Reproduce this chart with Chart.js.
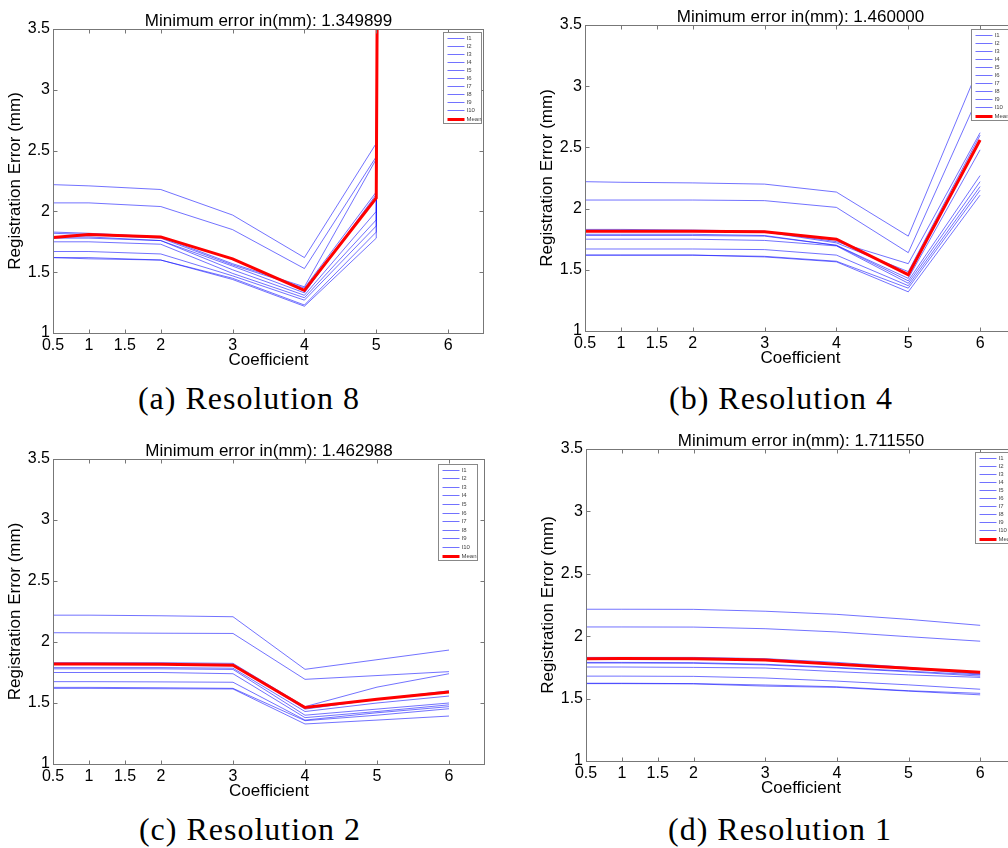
<!DOCTYPE html>
<html>
<head>
<meta charset="utf-8">
<script src="https://cdn.jsdelivr.net/npm/chart.js@4.4.1/dist/chart.umd.min.js"></script>
<style>
  html, body { margin: 0; padding: 0; background: #fff; width: 1008px; height: 848px; overflow: hidden; }
  canvas { position: absolute; }
  .caption { position: absolute; width: 400px; height: 40px; line-height: 40px; text-align: center;
             font-family: 'Liberation Serif', serif; font-size: 32px; letter-spacing: 1px; color: #000; }
</style>
</head>
<body>
<canvas id="res8"></canvas>
<canvas id="res4"></canvas>
<canvas id="res2"></canvas>
<canvas id="res1"></canvas>
<div class="caption" style="left:49px; top:378px">(a) Resolution 8</div>
<div class="caption" style="left:581px; top:378px">(b) Resolution 4</div>
<div class="caption" style="left:50px; top:809px">(c) Resolution 2</div>
<div class="caption" style="left:580px; top:809px">(d) Resolution 1</div>
<script>
const coefficients = [0.5, 1, 2, 3, 4, 5, 6];
const xTicks = [0.5, 1, 1.5, 2, 3, 4, 5, 6];
const yTicks = [1, 1.5, 2, 2.5, 3, 3.5];
const seriesLabels = ['I1', 'I2', 'I3', 'I4', 'I5', 'I6', 'I7', 'I8', 'I9', 'I10'];

// Resolution 8 (values at 6 are far off the top of the axes)
const res8 = [
    [2.22, 2.21, 2.18, 1.97, 1.62, 2.56, 170],
    [2.07, 2.07, 2.04, 1.85, 1.53, 2.45, 120],
    [1.83, 1.82, 1.79, 1.57, 1.38, 2.43, 150],
    [1.82, 1.81, 1.78, 1.56, 1.37, 2.16, 90],
    [1.79, 1.79, 1.76, 1.55, 1.33, 2.14, 130],
    [1.78, 1.78, 1.76, 1.52, 1.31, 2.00, 80],
    [1.75, 1.75, 1.73, 1.49, 1.29, 1.93, 110],
    [1.67, 1.67, 1.65, 1.47, 1.27, 1.88, 140],
    [1.62, 1.62, 1.60, 1.45, 1.23, 1.83, 100],
    [1.62, 1.61, 1.60, 1.44, 1.22, 1.78, 160]
];
const res8Mean = [1.785, 1.81, 1.79, 1.61, 1.35, 2.11, 125];

// Resolution 4
const res4 = [
    [2.22, 2.215, 2.21, 2.20, 2.135, 1.775, 3.18],
    [2.07, 2.07, 2.07, 2.065, 2.01, 1.64, 2.95],
    [1.83, 1.83, 1.825, 1.815, 1.73, 1.55, 2.62],
    [1.82, 1.82, 1.82, 1.81, 1.72, 1.485, 2.60],
    [1.79, 1.79, 1.79, 1.78, 1.70, 1.43, 2.48],
    [1.78, 1.78, 1.78, 1.775, 1.70, 1.41, 2.27],
    [1.75, 1.75, 1.75, 1.74, 1.695, 1.39, 2.22],
    [1.67, 1.67, 1.67, 1.665, 1.62, 1.37, 2.18],
    [1.62, 1.62, 1.62, 1.61, 1.57, 1.35, 2.15],
    [1.62, 1.62, 1.62, 1.605, 1.565, 1.32, 2.11]
];
const res4Mean = [1.815, 1.815, 1.815, 1.81, 1.75, 1.46, 2.56];

// Resolution 2
const res2 = [
    [2.22, 2.22, 2.215, 2.207, 1.776, 1.855, 1.934],
    [2.076, 2.075, 2.072, 2.07, 1.694, 1.725, 1.757],
    [1.83, 1.83, 1.83, 1.825, 1.47, 1.63, 1.74],
    [1.82, 1.82, 1.82, 1.815, 1.45, 1.53, 1.60],
    [1.79, 1.79, 1.79, 1.785, 1.43, 1.50, 1.557],
    [1.78, 1.78, 1.78, 1.775, 1.40, 1.45, 1.50],
    [1.75, 1.75, 1.75, 1.74, 1.38, 1.43, 1.485],
    [1.675, 1.675, 1.673, 1.67, 1.36, 1.42, 1.47],
    [1.628, 1.628, 1.625, 1.62, 1.355, 1.40, 1.453],
    [1.62, 1.62, 1.617, 1.615, 1.328, 1.36, 1.393]
];
const res2Mean = [1.82, 1.82, 1.818, 1.81, 1.463, 1.53, 1.59];

// Resolution 1
const res1 = [
    [2.216, 2.216, 2.215, 2.20, 2.175, 2.135, 2.087],
    [2.074, 2.074, 2.073, 2.06, 2.034, 1.996, 1.96],
    [1.83, 1.83, 1.83, 1.82, 1.79, 1.75, 1.70],
    [1.82, 1.82, 1.82, 1.81, 1.78, 1.74, 1.695],
    [1.79, 1.79, 1.788, 1.775, 1.75, 1.72, 1.69],
    [1.785, 1.785, 1.783, 1.77, 1.745, 1.715, 1.68],
    [1.753, 1.753, 1.75, 1.745, 1.716, 1.69, 1.67],
    [1.68, 1.68, 1.678, 1.665, 1.64, 1.61, 1.575],
    [1.623, 1.623, 1.62, 1.609, 1.595, 1.563, 1.542],
    [1.62, 1.62, 1.618, 1.60, 1.59, 1.56, 1.53]
];
const res1Mean = [1.82, 1.822, 1.82, 1.81, 1.775, 1.743, 1.7116];

const minErrors = ['1.349899', '1.460000', '1.462988', '1.711550'];

const panels = [
    {id: 'res8', left: 0, top: 0, width: 500, height: 375, padTop: 29, padRight: 16,
        lines: res8, mean: res8Mean, minError: minErrors[0], legend: {right: 3, top: 3, width: 38, height: 91}},
    {id: 'res4', left: 532, top: 0, width: 488, height: 373, padTop: 25, padRight: 4,
        lines: res4, mean: res4Mean, minError: minErrors[1], legend: {right: 3, top: 4, width: 42, height: 91}},
    {id: 'res2', left: 0, top: 420, width: 500, height: 386, padTop: 39, padRight: 15,
        lines: res2, mean: res2Mean, minError: minErrors[2], legend: {right: 8, top: 5, width: 39, height: 96}},
    {id: 'res1', left: 533, top: 420, width: 487, height: 383, padTop: 29, padRight: 4,
        lines: res1, mean: res1Mean, minError: minErrors[3], legend: {right: 3, top: 3, width: 38, height: 91}}
];

const blue = 'rgba(20, 20, 255, 0.6)';
const red = '#ff0000';

Chart.defaults.font.family = "'Liberation Sans', Arial, sans-serif";
Chart.defaults.font.size = 16;
Chart.defaults.color = '#000';

// MATLAB style box, inward ticks, title and legend inside the axes
const matlabAxes = {
    id: 'matlabAxes',
    afterDraw(chart, args, opts) {
        const ctx = chart.ctx;
        const a = chart.chartArea;
        const xs = chart.scales.x;
        const ys = chart.scales.y;
        const l = Math.round(a.left) + 0.5, r = Math.round(a.right) - 0.5;
        const t = Math.round(a.top) + 0.5, b = Math.round(a.bottom) + 0.5;

        ctx.save();
        ctx.strokeStyle = '#777';
        ctx.lineWidth = 1;
        ctx.beginPath();
        xTicks.forEach(v => {
            const px = Math.round(xs.getPixelForValue(v)) + 0.5;
            ctx.moveTo(px, b); ctx.lineTo(px, b - 4);
            ctx.moveTo(px, t); ctx.lineTo(px, t + 4);
        });
        yTicks.forEach(v => {
            const py = Math.round(ys.getPixelForValue(v)) + 0.5;
            ctx.moveTo(l, py); ctx.lineTo(l + 4, py);
            ctx.moveTo(r, py); ctx.lineTo(r - 4, py);
        });
        ctx.stroke();
        ctx.strokeRect(l, t, r - l, b - t);

        // title
        ctx.fillStyle = '#000';
        ctx.font = "17px 'Liberation Sans', Arial, sans-serif";
        ctx.textAlign = 'center';
        ctx.textBaseline = 'alphabetic';
        ctx.fillText('Minimum error in(mm): ' + opts.minError, (a.left + a.right) / 2, a.top - 3);

        // legend
        const lg = opts.legend;
        const bx = Math.round(a.right - lg.right - lg.width) + 0.5;
        const by = Math.round(a.top + lg.top) + 0.5;
        ctx.fillStyle = '#fff';
        ctx.fillRect(bx, by, lg.width, lg.height);
        ctx.strokeStyle = '#888';
        ctx.strokeRect(bx, by, lg.width, lg.height);
        const order = chart.data.datasets;
        const step = (lg.height - 10) / (order.length - 1);
        ctx.font = "6px 'Liberation Sans', Arial, sans-serif";
        ctx.textAlign = 'left';
        ctx.textBaseline = 'middle';
        order.forEach((ds, i) => {
            const y = Math.round(by + 5 + i * step) + 0.5;
            ctx.strokeStyle = ds.borderColor;
            ctx.lineWidth = ds.borderWidth;
            ctx.beginPath();
            ctx.moveTo(bx + 4, y);
            ctx.lineTo(bx + 21, y);
            ctx.stroke();
            ctx.fillStyle = '#444';
            ctx.fillText(ds.label, bx + 23, y);
        });
        ctx.restore();
    }
};

panels.forEach(p => {
    const canvas = document.getElementById(p.id);
    canvas.width = p.width;
    canvas.height = p.height;
    canvas.style.left = p.left + 'px';
    canvas.style.top = p.top + 'px';
    canvas.style.width = p.width + 'px';
    canvas.style.height = p.height + 'px';

    const datasets = p.lines.map((vals, i) => ({
        label: seriesLabels[i],
        data: coefficients.map((x, j) => ({x: x, y: vals[j]})),
        borderColor: blue,
        borderWidth: 1,
        order: 1
    }));
    datasets.push({
        label: 'Mean',
        data: coefficients.map((x, j) => ({x: x, y: p.mean[j]})),
        borderColor: red,
        borderWidth: 3,
        order: 0
    });

    new Chart(canvas.getContext('2d'), {
        type: 'line',
        data: {datasets: datasets},
        options: {
            responsive: false,
            animation: false,
            events: [],
            elements: {
                point: {radius: 0},
                line: {tension: 0, borderJoinStyle: 'miter'}
            },
            layout: {padding: {top: p.padTop, right: p.padRight, left: 0, bottom: 0}},
            scales: {
                x: {
                    type: 'linear',
                    min: 0.5,
                    max: 6.5,
                    afterBuildTicks: scale => { scale.ticks = xTicks.map(v => ({value: v})); },
                    afterFit: scale => { scale.height = 42; },
                    grid: {display: false, drawTicks: false},
                    border: {display: false},
                    ticks: {autoSkip: false, maxRotation: 0, padding: 3, callback: v => String(v)},
                    title: {display: true, text: 'Coefficient', font: {size: 17}, padding: {top: 0, bottom: 4}}
                },
                y: {
                    type: 'linear',
                    min: 1,
                    max: 3.5,
                    afterBuildTicks: scale => { scale.ticks = yTicks.map(v => ({value: v})); },
                    afterFit: scale => { scale.width = 53; },
                    grid: {display: false, drawTicks: false},
                    border: {display: false},
                    ticks: {autoSkip: false, padding: 3, callback: v => String(v)},
                    title: {display: true, text: 'Registration Error (mm)', font: {size: 17}, padding: {top: 5, bottom: 0}}
                }
            },
            plugins: {
                legend: {display: false},
                tooltip: {enabled: false},
                matlabAxes: {minError: p.minError, legend: p.legend}
            }
        },
        plugins: [matlabAxes]
    });
});
</script>
</body>
</html>
